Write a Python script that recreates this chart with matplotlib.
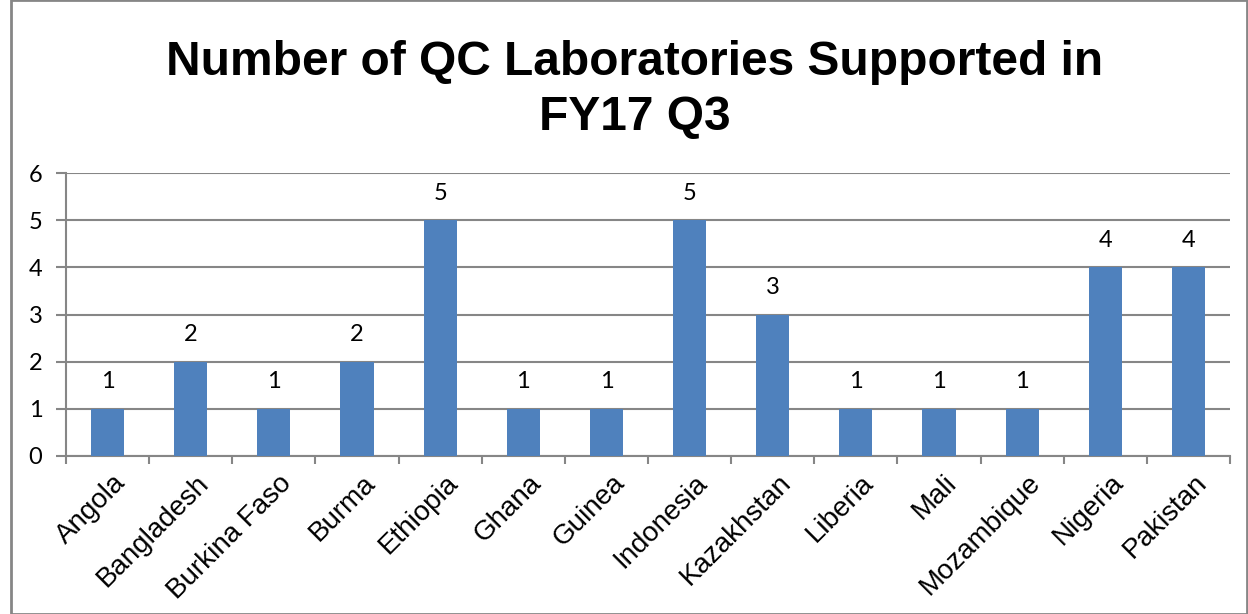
import numpy as np
import matplotlib.pyplot as plt
import matplotlib.transforms as mtransforms
from matplotlib.patches import Rectangle

paises = ['Angola', 'Bangladesh', 'Burkina Faso', 'Burma', 'Ethiopia', 'Ghana', 'Guinea',
          'Indonesia', 'Kazakhstan', 'Liberia', 'Mali', 'Mozambique', 'Nigeria', 'Pakistan']
labs = [1, 2, 1, 2, 5, 1, 1, 5, 3, 1, 1, 1, 4, 4]

gris = '#868686'

fig = plt.figure(figsize=(12.48, 6.14), dpi=100)
ax = fig.add_axes([66 / 1248, 1 - 456 / 614, (1230 - 66) / 1248, (456 - 173) / 614])

x = np.arange(len(paises))
ax.bar(x, labs, width=0.4, color='#4F81BD', zorder=3)

for xi, v in zip(x, labs):
    ax.annotate(str(v), (xi, v), xytext=(0, 12), textcoords='offset points',
                ha='center', va='bottom', fontsize=17, family='Lato')

ax.set_xlim(-0.5, len(paises) - 0.5)
ax.set_ylim(0, 6)
ax.set_yticks(range(7))
ax.yaxis.grid(True, color=gris, linewidth=1.5, zorder=0)
ax.tick_params(axis='y', length=7, width=1.5, color=gris, labelsize=17, pad=10)
for lab in ax.get_yticklabels():
    lab.set_family('Lato')

# ticks del eje x en los bordes de categoria
ax.set_xticks(np.arange(-0.5, len(paises)), minor=False)
ax.set_xticklabels([])
ax.set_xticks(x, minor=True)
ax.set_xticklabels(paises, minor=True, rotation=45, ha='right', va='top',
                   rotation_mode='anchor', fontsize=20, family='Liberation Sans')
ax.tick_params(axis='x', which='major', length=6, width=1.5, color=gris)
ax.tick_params(axis='x', which='minor', length=0, pad=10)
desp = mtransforms.ScaledTranslation(5 / 100, 0, fig.dpi_scale_trans)
for lab in ax.get_xticklabels(minor=True):
    lab.set_transform(lab.get_transform() + desp)

for lado in ['top', 'right']:
    ax.spines[lado].set_visible(False)
for lado in ['left', 'bottom']:
    ax.spines[lado].set_color(gris)
    ax.spines[lado].set_linewidth(1.5)

fig.text(635 / 1248, 1 - 90 / 614, 'Number of QC Laboratories Supported in\nFY17 Q3',
         ha='center', va='center', fontsize=34.5, fontweight='bold',
         family='Liberation Sans', linespacing=1.3)

fig.patches.append(Rectangle((11 / 1248, 0), 1 - 12 / 1248, 1, transform=fig.transFigure,
                             fill=False, edgecolor=gris, linewidth=2))

fig.savefig('out.png', dpi=100)
